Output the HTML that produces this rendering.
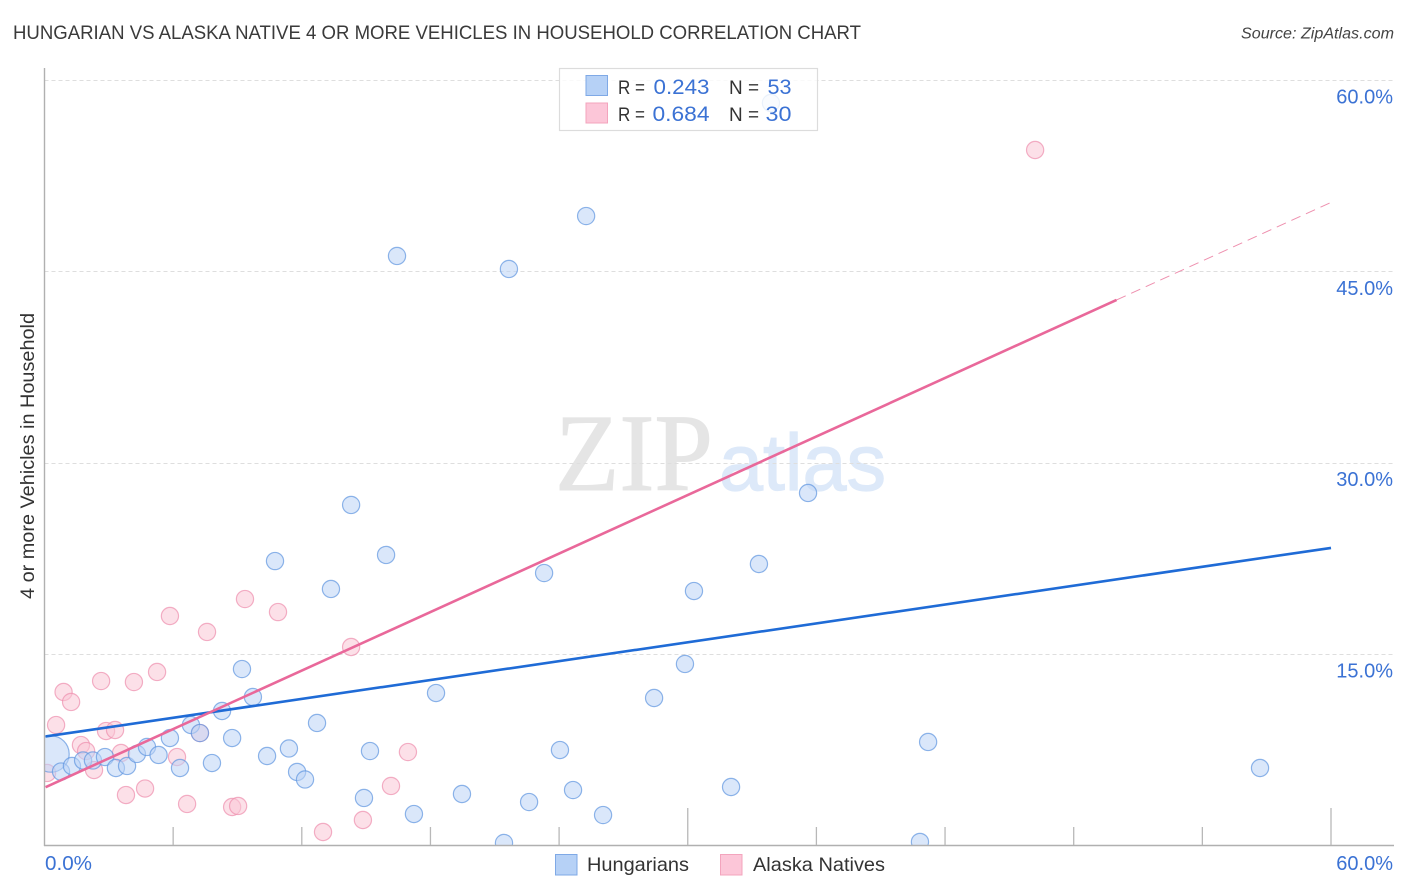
<!DOCTYPE html>
<html>
<head>
<meta charset="utf-8">
<title>Hungarian vs Alaska Native correlation chart</title>
<style>
html,body{margin:0;padding:0;background:#fff;width:1406px;height:892px;overflow:hidden}
svg{display:block;font-family:"Liberation Sans",sans-serif}
</style>
</head>
<body>
<svg id="chart" width="1406" height="892" viewBox="0 0 1406 892" xmlns="http://www.w3.org/2000/svg">
  <defs>
    <clipPath id="plot-clip"><rect x="44" y="60" width="1350" height="785"></rect></clipPath>
  </defs>
  <text x="13" y="39" font-size="19" fill="#3a3a3a" textLength="848" lengthAdjust="spacingAndGlyphs">HUNGARIAN VS ALASKA NATIVE 4 OR MORE VEHICLES IN HOUSEHOLD CORRELATION CHART</text>
  <text x="1394" y="38.5" font-size="15.5" font-style="italic" fill="#444" text-anchor="end" textLength="153" lengthAdjust="spacingAndGlyphs">Source: ZipAtlas.com</text>
  <text transform="translate(34,456) rotate(-90)" font-size="19" fill="#333" text-anchor="middle" textLength="286" lengthAdjust="spacingAndGlyphs">4 or more Vehicles in Household</text>
  <g>
    <text x="555" y="490" font-family="'Liberation Serif',serif" font-size="110" fill="#e5e5e5" stroke="#e5e5e5" stroke-width="1" textLength="158" lengthAdjust="spacingAndGlyphs">ZIP</text>
    <text x="719" y="490" font-size="80" fill="#dde9f9" stroke="#dde9f9" stroke-width="1.2" textLength="167" lengthAdjust="spacingAndGlyphs">atlas</text>
  </g>
  <g id="gridlines"></g>
  <g id="points-pink" clip-path="url(#plot-clip)"></g>
  <g id="points-blue" clip-path="url(#plot-clip)"></g>
  <g id="trends"></g>
  <g id="axes"></g>
  <g>
    <rect x="559.5" y="68.5" width="258" height="62" fill="#fff" fill-opacity="0.82" stroke="#dcdcdc" stroke-width="1.2"></rect>
    <rect x="586" y="75.5" width="21.5" height="20" fill="#b6d1f6" stroke="#7fa9e6" stroke-width="1"></rect>
    <rect x="586" y="103" width="21.5" height="20" fill="#fcc6d8" stroke="#f3a4bd" stroke-width="1"></rect>
    <text x="618" y="94" font-size="19.5" fill="#333" textLength="27" lengthAdjust="spacingAndGlyphs">R =</text>
    <text x="653.5" y="94" font-size="21" fill="#3b72d4" textLength="56" lengthAdjust="spacingAndGlyphs">0.243</text>
    <text x="729" y="94" font-size="19.5" fill="#333" textLength="30" lengthAdjust="spacingAndGlyphs">N =</text>
    <text x="767.5" y="94" font-size="21" fill="#3b72d4" textLength="24" lengthAdjust="spacingAndGlyphs">53</text>
    <text x="618" y="121" font-size="19.5" fill="#333" textLength="27" lengthAdjust="spacingAndGlyphs">R =</text>
    <text x="652.5" y="121" font-size="21" fill="#3b72d4" textLength="57" lengthAdjust="spacingAndGlyphs">0.684</text>
    <text x="729" y="121" font-size="19.5" fill="#333" textLength="30" lengthAdjust="spacingAndGlyphs">N =</text>
    <text x="765.5" y="121" font-size="21" fill="#3b72d4" textLength="26" lengthAdjust="spacingAndGlyphs">30</text>
  </g>
  <g>
    <rect x="555.5" y="854.5" width="21.5" height="20.5" fill="#b6d1f6" stroke="#7fa9e6" stroke-width="1"></rect>
    <text x="587" y="871" font-size="19.5" fill="#333" textLength="102" lengthAdjust="spacingAndGlyphs">Hungarians</text>
    <rect x="720.5" y="854.5" width="21.5" height="20.5" fill="#fcc6d8" stroke="#f3a4bd" stroke-width="1"></rect>
    <text x="753" y="871" font-size="19.5" fill="#333" textLength="132" lengthAdjust="spacingAndGlyphs">Alaska Natives</text>
  </g>
</svg>
<script>
const hungariansX = [0.30,0.77,1.28,1.80,2.26,2.82,3.33,3.85,4.31,4.78,5.32,5.85,6.32,6.83,7.25,8.28,7.81,8.75,9.72,9.21,10.38,11.40,11.78,12.15,12.71,15.18,14.90,10.75,13.36,14.30,15.93,16.44,21.66,25.26,18.26,23.30,24.04,19.47,22.60,24.65,26.05,17.23,21.43,40.83,28.43,29.87,30.29,32.02,33.32,35.61,41.21,56.69,33.88];
const hungariansY = [7.14,5.76,6.20,6.63,6.63,6.90,6.04,6.20,7.14,7.69,7.06,8.39,6.04,9.41,8.78,10.51,6.43,8.39,11.61,13.80,6.98,7.57,5.73,5.14,9.57,7.37,3.69,22.27,20.08,26.67,22.75,46.20,45.18,49.33,11.92,21.33,7.45,4.00,3.37,4.31,2.35,2.43,0.16,0.24,11.53,14.20,19.92,4.55,22.04,27.61,8.08,6.04,58.20];
const hungariansWeight = [4.5,1,1,1,1,1,1,1,1,1,1,1,1,1,1,1,1,1,1,1,1,1,1,1,1,1,1,1,1,1,1,1,1,1,1,1,1,1,1,1,1,1,1,1,1,1,1,1,1,1,1,1,1];
const alaskaX = [0.12,0.54,0.89,1.24,1.70,1.94,2.31,2.64,2.87,3.29,3.57,3.80,4.17,4.69,5.25,6.18,6.65,7.25,8.75,9.03,5.85,7.58,9.35,10.89,14.30,12.99,14.85,16.16,16.95,46.20];
const alaskaY = [5.65,9.41,12.00,11.22,7.84,7.37,5.88,12.86,8.94,9.02,7.22,3.92,12.78,4.43,13.57,6.90,3.22,8.78,2.98,3.06,17.96,16.71,19.29,18.27,15.53,1.02,1.96,4.63,7.29,54.51];
const hungariansTrend = [8.5, 23.3];
const alaskaTrend = [4.5, 50.4];
const alaskaSolidEnd = 50;
const xDomainEnd = [60];
const xTickValues = [0,6,12,18,24,30,36,42,48,54,60];
const xMajorTicks = [0,30,60];
const xTickLabels = ["0.0%","60.0%"];
const yTickValues = [15,30,45,60];
const yTickLabels = ["15.0%","30.0%","45.0%","60.0%"];

const NS = "http://www.w3.org/2000/svg";
function xScale(v){ return 44.5 + v * 1286.5 / 60; }
function yScale(v){ return 845 - v * 765 / 60; }
function make(tag, attrs, parent){
  const el = document.createElementNS(NS, tag);
  for (const k in attrs) el.setAttribute(k, attrs[k]);
  parent.appendChild(el);
  return el;
}

const grid = document.getElementById("gridlines");
yTickValues.forEach(function(v, i){
  const g = make("line", {x1:44.5, x2:1394, y1:Math.round(yScale(v)) + 0.5, y2:Math.round(yScale(v)) + 0.5, stroke:"#dedede", "stroke-width":1, "stroke-dasharray":"4 3"}, grid);
  
  
  const t = make("text", {x:1393, y:yScale(v) + 23.5, "font-size":20, fill:"#3b72d4", "text-anchor":"end"}, grid);
  t.textContent = yTickLabels[i];
  
  
});

function drawPoints(groupId, xs, ys, fill, stroke, weights){
  const group = document.getElementById(groupId);
  xs.forEach(function(x, i){
    const w = weights ? weights[i] : 1;
    const c = make("circle", {cx:xScale(x), cy:yScale(ys[i]), r:8.6 * Math.sqrt(w), fill:fill, "fill-opacity":0.55, stroke:stroke, "stroke-opacity":0.7, "stroke-width":1.2}, group);
    
    
  });
}
drawPoints("points-pink", alaskaX, alaskaY, "#f9c6d6", "#ee8fae", null);
drawPoints("points-blue", hungariansX, hungariansY, "#bcd4f6", "#5f95e0", hungariansWeight);

const trends = document.getElementById("trends");
function trendAt(tr, x){ return tr[0] + (tr[1] - tr[0]) * x / xDomainEnd[0]; }
const blueLine = make("line", {x1:xScale(0.05), y1:yScale(trendAt(hungariansTrend,0.05)), x2:xScale(60), y2:yScale(trendAt(hungariansTrend,60)), stroke:"#1f6bd6", "stroke-width":2.6}, trends);


const pinkLine = make("line", {x1:xScale(0.05), y1:yScale(trendAt(alaskaTrend,0.05)), x2:xScale(alaskaSolidEnd), y2:yScale(trendAt(alaskaTrend,alaskaSolidEnd)), stroke:"#e9689a", "stroke-width":2.6}, trends);


const pinkDash = make("line", {x1:xScale(alaskaSolidEnd), y1:yScale(trendAt(alaskaTrend,alaskaSolidEnd)), x2:xScale(60), y2:yScale(trendAt(alaskaTrend,60)), stroke:"#ee8fae", "stroke-width":1, "stroke-dasharray":"10 6"}, trends);



const axes = document.getElementById("axes");
const yAxis = make("line", {x1:44.5, x2:44.5, y1:68, y2:846, stroke:"#b0b0b0", "stroke-width":1.4}, axes);


const xAxis = make("line", {x1:44, x2:1394, y1:845.5, y2:845.5, stroke:"#b0b0b0", "stroke-width":1.4}, axes);


xTickValues.forEach(function(v){
  if (v === 0) return;
  const top = xMajorTicks.indexOf(v) >= 0 ? 808 : 827;
  const tk = make("line", {x1:xScale(v), x2:xScale(v), y1:top, y2:845, stroke:"#b8b8b8", "stroke-width":1.3}, axes);
  
  
});
const xLabel0 = make("text", {x:45, y:870, "font-size":20, fill:"#3b72d4", textLength:47, lengthAdjust:"spacingAndGlyphs"}, axes);
xLabel0.textContent = xTickLabels[0];


const xLabel1 = make("text", {x:1393, y:870, "font-size":20, fill:"#3b72d4", "text-anchor":"end"}, axes);
xLabel1.textContent = xTickLabels[1];


</script>
</body>
</html>
